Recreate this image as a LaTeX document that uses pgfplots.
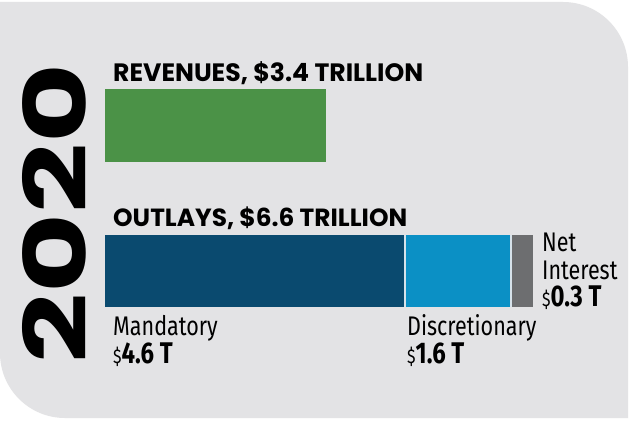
\documentclass[border=0pt]{standalone}
\usepackage{pgfplots}
\pgfplotsset{compat=1.18}
\usepackage{fontspec}
\setmainfont{Fira Sans}
\newfontfamily\headfont{Poppins}
\newfontfamily\labfont[FakeStretch=0.8]{Fira Sans}
\definecolor{bg}{HTML}{E3E3E5}
\definecolor{revgreen}{HTML}{4B9247}
\definecolor{mandblue}{HTML}{0A4A6F}
\definecolor{discblue}{HTML}{0B90C5}
\definecolor{netgray}{HTML}{6D6E70}
\definecolor{gapc}{HTML}{D6E2EA}
\begin{document}
\begin{tikzpicture}[x=1bp,y=1bp]
\useasboundingbox (0,0) rectangle (640,427);
\fill[white] (0,0) rectangle (640,427);
\fill[bg] (0,200) -- (0,425) -- (563,425) arc[start angle=90,end angle=0,radius=65] -- (628,9) -- (65,9) arc[start angle=270,end angle=180,radius=65] -- cycle;
\begin{axis}[at={(0,0)}, anchor=south west, scale only axis,
  width=640bp, height=427bp,
  xmin=-1.61538, xmax=8.23077, ymin=0, ymax=427, y dir=reverse,
  hide axis, clip=false, xbar stacked, bar width=72]
\addplot[fill=revgreen, draw=none] coordinates {(3.4,125.5) (0,271)};
\addplot[fill=mandblue, draw=none] coordinates {(0,125.5) (4.6,271)};
\addplot[fill=gapc, draw=none] coordinates {(0,125.5) (0.03,271)};
\addplot[fill=discblue, draw=none] coordinates {(0,125.5) (1.6,271)};
\addplot[fill=gapc, draw=none] coordinates {(0,125.5) (0.03,271)};
\addplot[fill=netgray, draw=none] coordinates {(0,125.5) (0.32,271)};
\end{axis}
% year
\node[anchor=south west, inner sep=0] at (22,427-364) {\rotatebox{90}{\resizebox{300bp}{64bp}{\headfont\bfseries 2020}}};
% headings
\node[anchor=base west, inner sep=0] at (113,427-81) {\resizebox{310bp}{!}{\headfont\bfseries REVENUES, \$3.4 TRILLION}};
\node[anchor=base west, inner sep=0] at (113,427-226) {\resizebox{294bp}{!}{\headfont\bfseries OUTLAYS, \$6.6 TRILLION}};
% labels
\node[anchor=base west, inner sep=0] at (113,427-335) {\fontsize{27}{28}\labfont Mandatory};
\node[anchor=base west, inner sep=0] at (113,427-363) {\fontsize{30}{31}\labfont{\fontsize{20}{20}\selectfont\$}\bfseries 4.6 T};
\node[anchor=base west, inner sep=0] at (407,427-335) {\fontsize{27}{28}\labfont Discretionary};
\node[anchor=base west, inner sep=0] at (407,427-363) {\fontsize{30}{31}\labfont{\fontsize{20}{20}\selectfont\$}\bfseries 1.6 T};
\node[anchor=base west, inner sep=0] at (542,427-251) {\fontsize{27}{28}\labfont Net};
\node[anchor=base west, inner sep=0] at (542,427-279) {\fontsize{27}{28}\labfont Interest};
\node[anchor=base west, inner sep=0] at (542,427-306) {\fontsize{30}{31}\labfont{\fontsize{20}{20}\selectfont\$}\bfseries 0.3 T};
\end{tikzpicture}
\end{document}
